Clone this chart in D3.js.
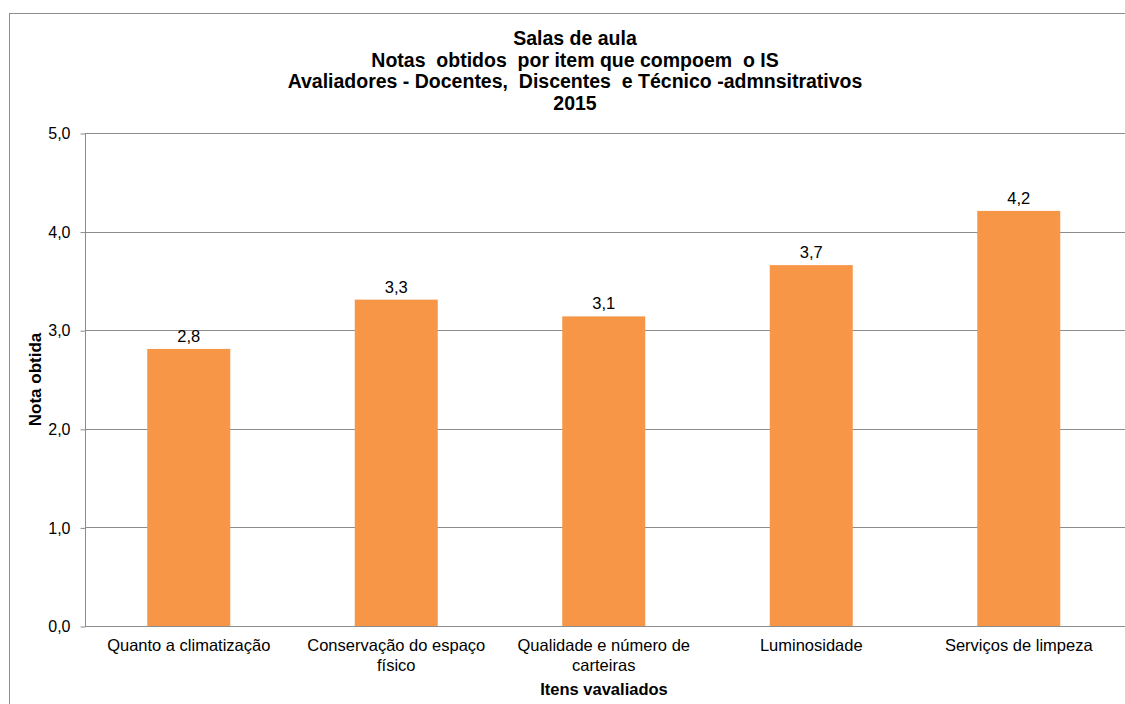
<!DOCTYPE html>
<html>
<head>
<meta charset="utf-8">
<script src="https://cdn.jsdelivr.net/npm/d3@7"></script>
<style>
  html, body { margin: 0; padding: 0; background: #fff; }
  svg { display: block; font-family: "Liberation Sans", Arial, sans-serif; }
</style>
</head>
<body>
<svg id="chart" width="1125" height="704"></svg>
<script>
const titleLines = [
  "Salas de aula",
  "Notas  obtidos  por item que compoem  o IS",
  "Avaliadores - Docentes,  Discentes  e Técnico -admnsitrativos",
  "2015"
];
const categories = [
  "Quanto a climatização",
  "Conservação do espaço físico",
  "Qualidade e número de carteiras",
  "Luminosidade",
  "Serviços de limpeza"
];
const values = [2.81, 3.31, 3.14, 3.66, 4.21];
const valueLabels = ["2,8", "3,3", "3,1", "3,7", "4,2"];
const yTicks = [0, 1, 2, 3, 4, 5];
const yTickLabels = ["0,0", "1,0", "2,0", "3,0", "4,0", "5,0"];
const yAxisTitle = "Nota obtida";
const xAxisTitle = "Itens vavaliados";

const svg = d3.select("#chart");

// outer chart border
svg.append("rect")
  .attr("x", 9.5).attr("y", 13.5)
  .attr("width", 1125).attr("height", 720)
  .attr("fill", "none").attr("stroke", "#8c8c8c").attr("stroke-width", 1);

const plot = { left: 85, right: 1122.5, top: 133, bottom: 626 };

const x = d3.scaleBand()
  .domain(categories)
  .range([plot.left, plot.right])
  .paddingInner(0.6)
  .paddingOuter(0.3);

const y = d3.scaleLinear().domain([0, 5]).range([plot.bottom, plot.top]);

// gridlines
svg.append("g")
  .selectAll("line")
  .data(yTicks)
  .join("line")
  .attr("x1", plot.left).attr("x2", 1125)
  .attr("y1", d => Math.round(y(d)) + 0.5).attr("y2", d => Math.round(y(d)) + 0.5)
  .attr("stroke", "#8c8c8c").attr("stroke-width", 1);

// y axis
const yAxis = d3.axisLeft(y)
  .tickValues(yTicks)
  .tickFormat((d, i) => yTickLabels[i])
  .tickSize(5)
  .tickPadding(10);
const gy = svg.append("g")
  .attr("transform", `translate(${plot.left + 0.5},0.5)`)
  .call(yAxis);
gy.select(".domain").attr("stroke", "#8c8c8c").attr("d", `M-0,${plot.bottom}V${plot.top}`);
gy.selectAll(".tick line").attr("stroke", "#8c8c8c");
gy.selectAll(".tick text")
  .attr("fill", "#000").style("font-size", "16px")
  .style("font-family", "Liberation Sans, Arial, sans-serif");

// bars
svg.append("g")
  .selectAll("rect")
  .data(values)
  .join("rect")
  .attr("x", (d, i) => x(categories[i]))
  .attr("width", x.bandwidth())
  .attr("y", d => y(d))
  .attr("height", d => y(0) - y(d))
  .attr("fill", "#f79646");

// value labels
svg.append("g")
  .selectAll("text")
  .data(values)
  .join("text")
  .attr("x", (d, i) => x(categories[i]) + x.bandwidth() / 2)
  .attr("y", d => y(d) - 7)
  .attr("text-anchor", "middle")
  .style("font-size", "16.5px")
  .attr("fill", "#000")
  .text((d, i) => valueLabels[i]);

// x axis (no ticks)
const xAxis = d3.axisBottom(x).tickSize(0).tickPadding(13);
const gx = svg.append("g")
  .attr("transform", `translate(0,${plot.bottom + 0.5})`)
  .call(xAxis);
gx.select(".domain").attr("stroke", "#8c8c8c").attr("d", `M${plot.left},0H1125`);
gx.selectAll(".tick text")
  .attr("fill", "#000").style("font-size", "16.5px")
  .style("font-family", "Liberation Sans, Arial, sans-serif")
  .call(wrap, 196);

function wrap(texts, width) {
  texts.each(function() {
    const text = d3.select(this);
    const words = text.text().split(/\s+/);
    const yAttr = text.attr("y");
    const dy = parseFloat(text.attr("dy")) || 0;
    text.text(null);
    let line = [];
    let lineNumber = 0;
    let tspan = text.append("tspan").attr("x", 0).attr("y", yAttr).attr("dy", dy + "em");
    for (const w of words) {
      line.push(w);
      tspan.text(line.join(" "));
      if (tspan.node().getComputedTextLength() > width && line.length > 1) {
        line.pop();
        tspan.text(line.join(" "));
        line = [w];
        lineNumber++;
        tspan = text.append("tspan").attr("x", 0).attr("y", yAttr)
          .attr("dy", (lineNumber * 1.2 + dy) + "em").text(w);
      }
    }
  });
}

// axis titles
svg.append("text")
  .attr("x", 604)
  .attr("y", 695)
  .attr("text-anchor", "middle")
  .style("font-size", "16.5px").style("font-weight", "bold")
  .attr("fill", "#000")
  .text(xAxisTitle);

svg.append("text")
  .attr("transform", `translate(41,${(plot.top + plot.bottom) / 2}) rotate(-90)`)
  .attr("text-anchor", "middle")
  .style("font-size", "17px").style("font-weight", "bold")
  .attr("fill", "#000")
  .text(yAxisTitle);

// title
svg.append("g")
  .selectAll("text")
  .data(titleLines)
  .join("text")
  .attr("x", 575)
  .attr("y", (d, i) => 45 + i * 21.5)
  .attr("text-anchor", "middle")
  .style("font-size", "19.5px").style("font-weight", "bold")
  .style("white-space", "pre")
  .attr("xml:space", "preserve")
  .attr("fill", "#000")
  .text(d => d);
</script>
</body>
</html>
